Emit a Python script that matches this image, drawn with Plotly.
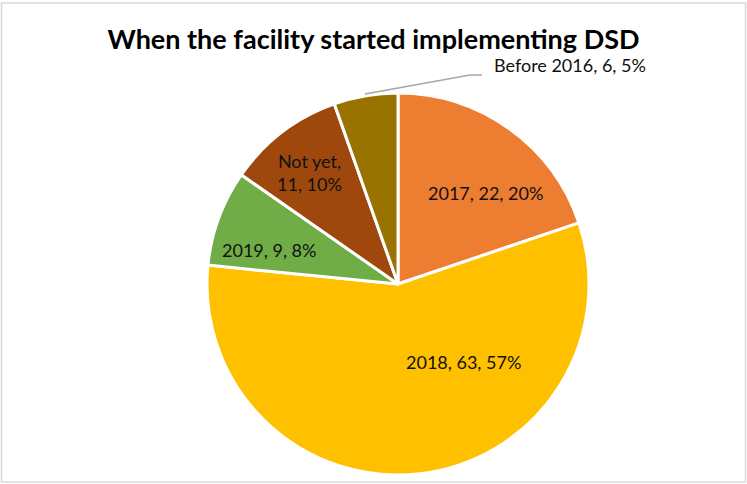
import plotly.graph_objects as go

labels = ["2017", "2018", "2019", "Not yet", "Before 2016"]
values = [22, 63, 9, 11, 6]
colors = ["#ED7D31", "#FFC000", "#70AD47", "#9E480E", "#997300"]

total = sum(values)
texts = []
for l, v in zip(labels, values):
    pct = round(v / total * 100)
    if l == "Not yet":
        texts.append(f"{l},<br>{v}, {pct}%")
    else:
        texts.append(f"{l}, {v}, {pct}%")

W, H = 747, 484
# label anchor positions in pixels (layout only)
label_pos = [(485, 193), (464, 362), (269, 250), (309, 172), (492, 65)]

fig = go.Figure(go.Pie(
    labels=labels, values=values, sort=False, direction="clockwise", rotation=0,
    marker=dict(colors=colors, line=dict(color="white", width=3)),
    textinfo="none",
    hoverinfo="label+value+percent", showlegend=False,
    domain=dict(x=[207 / W, 589 / W], y=[(H - 475) / H, (H - 93) / H]),
))

for i, (t, (px, py)) in enumerate(zip(texts, label_pos)):
    outside = labels[i] == "Before 2016"
    fig.add_annotation(x=px / W, y=(H - py) / H, xref="paper", yref="paper",
                       text=t, showarrow=False,
                       xanchor="left" if outside else "center", yanchor="middle",
                       font=dict(family="Lato", size=18, color="#111111"))

fig.add_shape(type="path", xref="paper", yref="paper",
              path=f"M {365 / W} {(H - 94) / H} L {470 / W} {(H - 75) / H} L {482 / W} {(H - 75) / H}",
              line=dict(color="#A6A6A6", width=1.5))
fig.add_shape(type="rect", xref="paper", yref="paper", x0=0.002, y0=0.004, x1=0.998, y1=0.994,
              line=dict(color="#D9D9D9", width=1.5))

fig.update_layout(
    width=W, height=H, margin=dict(l=0, r=0, t=0, b=0),
    paper_bgcolor="white", plot_bgcolor="white",
    title=dict(text="<b>When the facility started implementing DSD</b>", x=0.5, xanchor="center",
               y=(H - 40) / H, yanchor="middle",
               font=dict(family="Lato", size=27, color="#000000")),
)
fig.write_html("out.html", config={"displayModeBar": False},
               post_script="document.body.style.margin='0';document.body.style.overflow='hidden';")
